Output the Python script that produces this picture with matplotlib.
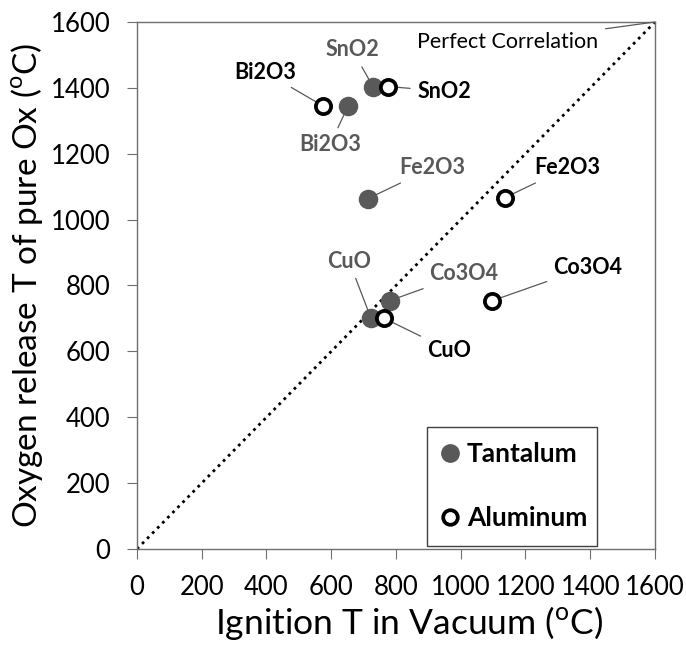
import matplotlib
matplotlib.use('Agg')
from matplotlib import pyplot as plt
from matplotlib.lines import Line2D

plt.rcParams['font.family'] = ['Lato', 'DejaVu Sans']
plt.rcParams['mathtext.fontset'] = 'custom'
plt.rcParams['mathtext.rm'] = 'Lato'

# Data
oxides = ['SnO2', 'Bi2O3', 'Fe2O3', 'CuO', 'Co3O4']
ta_ignition = [730, 652, 714, 723, 781]
ta_release = [1402, 1345, 1064, 700, 754]
al_ignition = [776, 575, 1137, 764, 1098]
al_release = [1404, 1345, 1067, 700, 754]

# label positions (data coords) for each annotation
ta_label_pos = [(665, 1515), (596, 1227), (911, 1157), (655, 874), (1010, 835)]
al_label_pos = [(395, 1448), (948, 1390), (1328, 1157), (964, 604), (1393, 856)]

gray = '#595959'

fig = plt.figure(figsize=(6.86, 6.47), dpi=100)
ax = fig.add_axes([0.1997, 0.1515, 0.7551, 0.8145])

# Perfect correlation line
ax.plot([0, 1600], [0, 1600], color='black', linestyle=(0, (1, 1.6)), linewidth=2, zorder=1)

ax.scatter(ta_ignition, ta_release, s=170, color=gray, zorder=3)
ax.scatter(al_ignition, al_release, s=120, facecolor='white', edgecolor='black',
           linewidth=2.7, zorder=4)

line_kw = dict(arrowstyle='-', color=gray, linewidth=0.9, shrinkA=3, shrinkB=0)

for name, x, y, pos in zip(oxides, ta_ignition, ta_release, ta_label_pos):
    ax.annotate(name, xy=(x, y), xytext=pos, ha='center', va='center',
                fontsize=15.5, fontweight='bold', color=gray,
                arrowprops=line_kw, zorder=2)

al_order = [1, 0, 2, 3, 4]
for i, pos in zip(al_order, al_label_pos):
    ax.annotate(oxides[i], xy=(al_ignition[i], al_release[i]), xytext=pos,
                ha='center', va='center', fontsize=15.5, fontweight='bold',
                color='black', arrowprops=line_kw, zorder=2)

ax.annotate('Perfect Correlation', xy=(1600, 1600), xytext=(1146, 1539),
            ha='center', va='center', fontsize=15.5, color='black',
            arrowprops=line_kw)

ax.set_xlim(0, 1600)
ax.set_ylim(0, 1600)
ax.set_xticks(range(0, 1601, 200))
ax.set_yticks(range(0, 1601, 200))
ax.tick_params(axis='both', labelsize=18.5, direction='out', length=7,
               color='#6f6f6f')
ax.tick_params(axis='y', pad=12)
ax.tick_params(axis='x', pad=12)
for s in ax.spines.values():
    s.set_color('#6f6f6f')
    s.set_linewidth(1.0)

ax.set_xlabel(r'Ignition T in Vacuum ($^{\mathrm{o}}$C)', fontsize=25.5)
ax.set_ylabel(r'Oxygen release T of pure Ox ($^{\mathrm{o}}$C)', fontsize=24)
ax.xaxis.set_label_coords(0.525, -0.104)
ax.yaxis.set_label_coords(-0.178, 0.5)

handles = [
    Line2D([], [], marker='o', linestyle='none', markersize=12.5, color=gray),
    Line2D([], [], marker='o', linestyle='none', markersize=10.5,
           markerfacecolor='white', markeredgecolor='black', markeredgewidth=2.7),
]
leg = ax.legend(handles, ['Tantalum', 'Aluminum'], loc='lower left',
                bbox_to_anchor=(0.56, 0.006, 0.328, 0.229), mode='expand',
                prop={'size': 19, 'weight': 'bold'}, fancybox=False,
                edgecolor='#404040', framealpha=1, labelspacing=1.5,
                handletextpad=0.35, handlelength=0.55, borderpad=0.6,
                borderaxespad=0)
leg.get_frame().set_linewidth(1.0)

fig.savefig('out.png', dpi=100)
